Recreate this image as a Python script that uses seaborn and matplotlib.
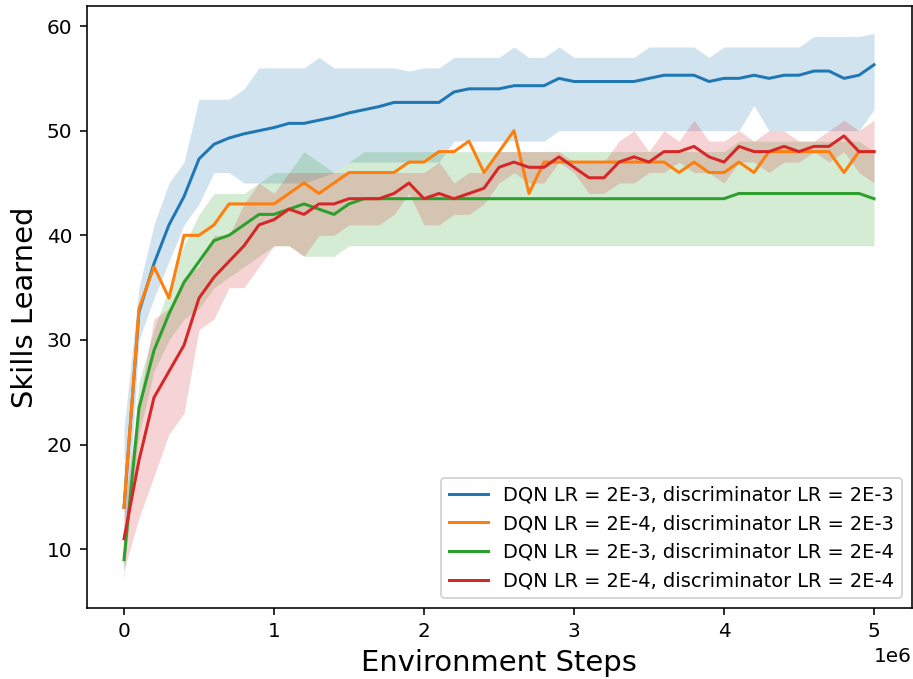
import numpy as np
import matplotlib
matplotlib.use("Agg")
import matplotlib.pyplot as plt
import seaborn as sns

# logged every 1e5 environment steps
steps = np.arange(0, 5_000_001, 100_000)

labels = [
    "DQN LR = 2E-3, discriminator LR = 2E-3",
    "DQN LR = 2E-4, discriminator LR = 2E-3",
    "DQN LR = 2E-3, discriminator LR = 2E-4",
    "DQN LR = 2E-4, discriminator LR = 2E-4",
]

# DQN 2E-3 / disc 2E-3 (mean + band)
blue_mean = [14.0, 32.7, 37.3, 41.0, 43.7, 47.3, 48.7, 49.3, 49.7, 50.0,
             50.3, 50.7, 50.7, 51.0, 51.3, 51.7, 52.0, 52.3, 52.7, 52.7,
             52.7, 52.7, 53.7, 54.0, 54.0, 54.0, 54.3, 54.3, 54.3, 55.0,
             54.7, 54.7, 54.7, 54.7, 54.7, 55.0, 55.3, 55.3, 55.3, 54.7,
             55.0, 55.0, 55.3, 55.0, 55.3, 55.3, 55.7, 55.7, 55.0, 55.3,
             56.3]
blue_lo = [7, 30, 34, 37.5, 41, 43, 46, 46, 45, 45,
           45, 45, 45, 45.5, 46, 47, 47, 47, 47, 47,
           47, 47, 49, 49, 49, 49, 49, 49, 49, 50,
           50, 50, 50, 50, 50, 50, 50, 50, 50, 50,
           50, 50, 52.4, 50, 50, 50, 50, 50, 50, 50,
           52]
blue_hi = [21.5, 35, 41, 45, 47, 53, 53, 53, 54, 56,
           56, 56, 56, 57, 56, 56, 56, 56, 56, 55.7,
           56, 56, 57, 57, 57, 57, 58, 57, 57, 58,
           57, 57, 57, 57, 57, 58, 58, 58, 58, 57,
           58, 58, 58, 58, 58, 58, 59, 59, 59, 59,
           59.3]

# DQN 2E-4 / disc 2E-3 (single run, no band)
orange_mean = [14, 33, 37, 34, 40, 40, 41, 43, 43, 43,
               43, 44, 45, 44, 45, 46, 46, 46, 46, 47,
               47, 48, 48, 49, 46, 48, 50, 44, 47, 47,
               47, 47, 47, 47, 47, 47, 47, 46, 47, 46,
               46, 47, 46, 48, 48, 48, 48, 48, 46, 48,
               48]

# DQN 2E-3 / disc 2E-4
green_mean = [9, 23.5, 29, 32.5, 35.5, 37.5, 39.5, 40, 41, 42,
              42, 42.5, 43, 42.5, 42, 43, 43.5, 43.5, 43.5, 43.5,
              43.5, 43.5, 43.5, 43.5, 43.5, 43.5, 43.5, 43.5, 43.5, 43.5,
              43.5, 43.5, 43.5, 43.5, 43.5, 43.5, 43.5, 43.5, 43.5, 43.5,
              43.5, 44, 44, 44, 44, 44, 44, 44, 44, 44,
              43.5]
green_lo = [8, 21, 27, 30, 32, 33, 35, 36, 37, 38,
            39, 39, 38, 38, 38, 39, 39, 39, 39, 39,
            39, 39, 39, 39, 39, 39, 39, 39, 39, 39,
            39, 39, 39, 39, 39, 39, 39, 39, 39, 39,
            39, 39, 39, 39, 39, 39, 39, 39, 39, 39,
            39]
green_hi = [10, 26, 31, 35, 39, 42, 44, 44, 44, 45,
            46, 46, 48, 47, 46, 47, 48, 48, 48, 48,
            48, 48, 48, 48, 48, 48, 48, 48, 48, 48,
            48, 48, 48, 48, 48, 48, 48, 48, 48, 48,
            48, 49, 49, 49, 49, 49, 49, 49, 49, 49,
            48]

# DQN 2E-4 / disc 2E-4
red_mean = [11, 18.5, 24.5, 27, 29.5, 34, 36, 37.5, 39, 41,
            41.5, 42.5, 42, 43, 43, 43.5, 43.5, 43.5, 44, 45,
            43.5, 44, 43.5, 44, 44.5, 46.5, 47, 46.5, 46.5, 47.5,
            46.5, 45.5, 45.5, 47, 47.5, 47, 48, 48, 48.5, 47.5,
            47, 48.5, 48, 48, 48.5, 48, 48.5, 48.5, 49.5, 48,
            48]
red_lo = [8, 13, 17, 21, 23, 31, 32, 35, 35, 37,
          39, 39, 38, 40, 40, 41, 41, 41, 42, 44,
          41, 41, 42, 42, 43, 45, 46, 45, 45, 47,
          46, 44, 44, 45, 45, 46, 46, 47, 46, 46,
          45, 47, 47, 46, 47, 47, 48, 47, 48, 46,
          45]
red_hi = [14, 24, 32, 33, 36, 37, 40, 40, 43, 45,
          44, 46, 46, 46, 46, 46, 46, 46, 46, 46,
          46, 47, 45, 46, 46, 48, 48, 48, 48, 48,
          47, 47, 47, 49, 50, 48, 50, 49, 51, 49,
          49, 50, 49, 50, 50, 49, 49, 50, 51, 50,
          51]

means = [blue_mean, orange_mean, green_mean, red_mean]
lows = [blue_lo, None, green_lo, red_lo]
highs = [blue_hi, None, green_hi, red_hi]
colors = sns.color_palette("tab10", 4)

fig, ax = plt.subplots(figsize=(913 / 144, 679 / 144), dpi=144)
fig.subplots_adjust(left=86.5 / 913, right=911.5 / 913, top=1 - 6 / 679, bottom=1 - 608 / 679)

for label, mean, lo, hi, c in zip(labels, means, lows, highs, colors):
    sns.lineplot(x=steps, y=mean, color=c, label=label, linewidth=1.5, ax=ax)
    if lo is not None:
        ax.fill_between(steps, lo, hi, color=c, alpha=0.2, linewidth=0)

ax.set_xlabel("Environment Steps", fontsize=14.5)
ax.set_ylabel("Skills Learned", fontsize=14.5)
ax.legend(loc="lower right", fontsize=9.7)

fig.savefig("out.png", dpi=144)
